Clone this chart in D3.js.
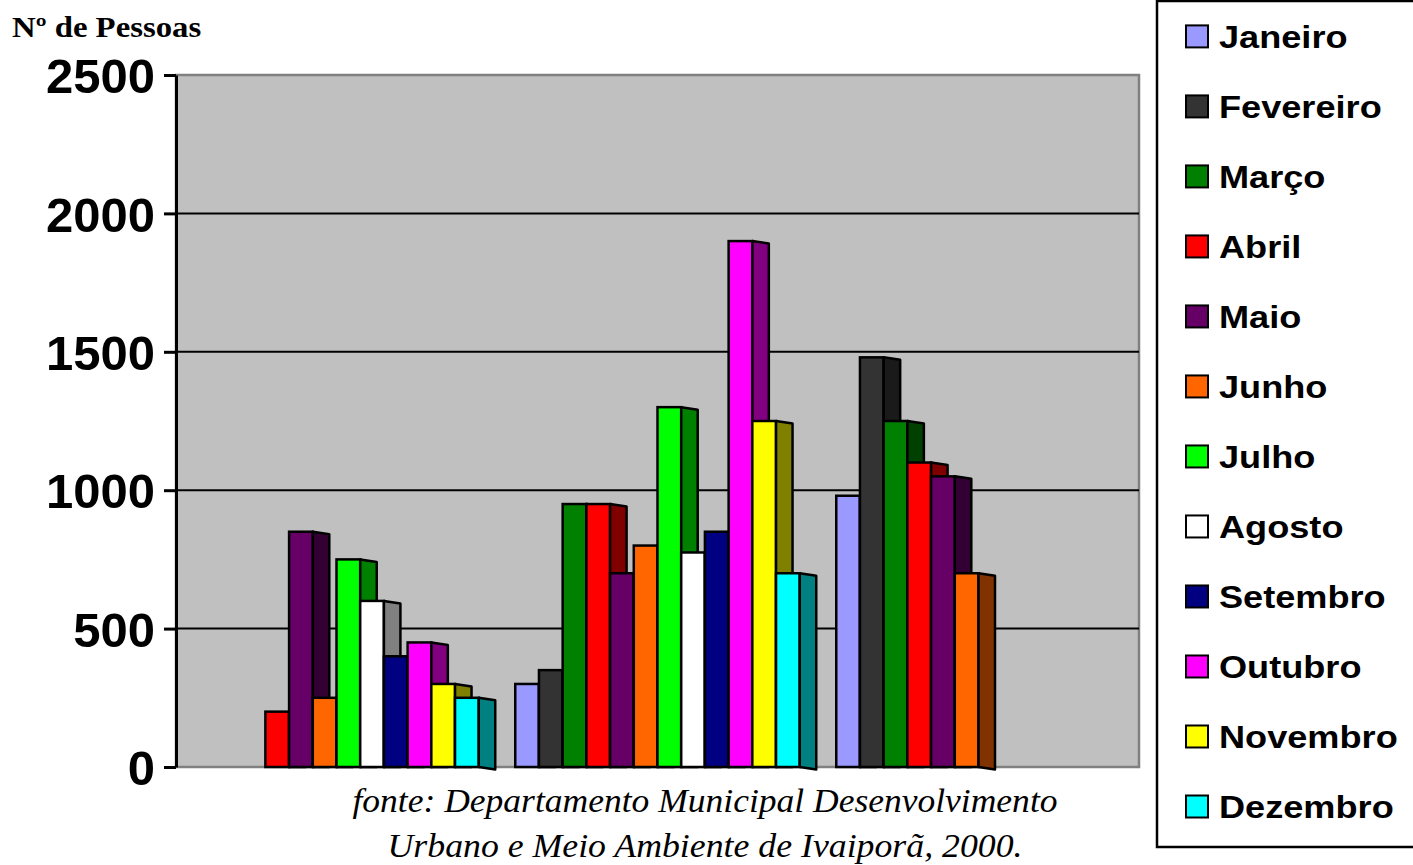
<!DOCTYPE html>
<html>
<head>
<meta charset="utf-8">
<script src="https://cdn.jsdelivr.net/npm/d3@7"></script>
<style>
  html, body { margin: 0; padding: 0; background: #ffffff; }
  svg { display: block; }
</style>
</head>
<body>
<svg id="chart" width="1413" height="865"></svg>
<script>
// Series (one per month) and their fill colours
const months = ["Janeiro", "Fevereiro", "Março", "Abril", "Maio", "Junho",
                "Julho", "Agosto", "Setembro", "Outubro", "Novembro", "Dezembro"];
const monthColors = ["#9999FF", "#333333", "#008000", "#FF0000", "#660066", "#FF6600",
                     "#00FF00", "#FFFFFF", "#000080", "#FF00FF", "#FFFF00", "#00FFFF"];

// Category groups (unlabelled on the axis)
const groups = ["Grupo 1", "Grupo 2", "Grupo 3"];

// Number of people per month, one array per group
const grupo1 = [0, 0, 0, 200, 850, 250, 750, 600, 400, 450, 300, 250];
const grupo2 = [300, 350, 950, 950, 700, 800, 1300, 775, 850, 1900, 1250, 700];
const grupo3 = [980, 1480, 1250, 1100, 1050, 700, 0, 0, 0, 0, 0, 0];
const groupValues = [grupo1, grupo2, grupo3];

// Y axis ticks
const yTicks = [0, 500, 1000, 1500, 2000, 2500];

const titleText = "Nº de Pessoas";
const sourceLines = ["fonte: Departamento Municipal Desenvolvimento",
                     "Urbano e Meio Ambiente de Ivaiporã, 2000."];

// ---- layout ----
const plot = { left: 176, right: 1139, top: 75, bottom: 767 };
const depthX = 16.5, depthY = 2.5;   // offset of the 3D side face

const svg = d3.select("#chart");

const y = d3.scaleLinear().domain([0, 2500]).range([plot.bottom, plot.top]);
const x0 = d3.scaleBand().domain(groups).range([plot.left, plot.right]);
const x1 = d3.scaleBand().domain(months).range([0, x0.bandwidth()]).paddingOuter(0.77);
const color = d3.scaleOrdinal().domain(months).range(monthColors);
const sideColor = m => {
  const c = d3.rgb(color(m));
  return d3.rgb(c.r * 0.5, c.g * 0.5, c.b * 0.5).formatHex();
};

// plot background
svg.append("rect")
  .attr("x", plot.left).attr("y", plot.top)
  .attr("width", plot.right - plot.left).attr("height", plot.bottom - plot.top)
  .attr("fill", "#C0C0C0").attr("stroke", "#808080").attr("stroke-width", 2.5);

// horizontal gridlines
svg.append("g").selectAll("line")
  .data(yTicks.filter(t => t > 0 && t < 2500))
  .join("line")
  .attr("x1", plot.left).attr("x2", plot.right)
  .attr("y1", d => y(d)).attr("y2", d => y(d))
  .attr("stroke", "#000").attr("stroke-width", 2);

// bars with a shaded side face
const bars = svg.append("g");
groups.forEach((g, gi) => {
  const vals = groupValues[gi];
  months.forEach((m, mi) => {
    const v = vals[mi];
    if (!v) return;
    const xa = x0(g) + x1(m);
    const xb = xa + x1.bandwidth();
    const yt = y(v), yb = y(0);
    // the bottom edge of the side face only shows when no bar stands next to it
    const hasNext = mi < months.length - 1 && vals[mi + 1] > 0;
    const bottomDy = hasNext ? 0 : depthY;
    bars.append("rect")
      .attr("x", xa).attr("y", yt)
      .attr("width", xb - xa).attr("height", yb - yt)
      .attr("fill", color(m)).attr("stroke", "#000").attr("stroke-width", 2.5);
    bars.append("path")
      .attr("d", `M${xb},${yt}L${xb + depthX},${yt + depthY}L${xb + depthX},${yb + bottomDy}L${xb},${yb}Z`)
      .attr("fill", sideColor(m)).attr("stroke", "#000").attr("stroke-width", 2.5)
      .attr("stroke-linejoin", "round");
  });
});

// y axis
const yAxis = svg.append("g")
  .attr("transform", `translate(${plot.left},0)`)
  .call(d3.axisLeft(y).tickValues(yTicks).tickFormat(d3.format("d"))
    .tickSize(12).tickSizeOuter(0).tickPadding(9));
yAxis.select(".domain").attr("stroke", "#000").attr("stroke-width", 3);
yAxis.selectAll(".tick line").attr("stroke", "#000").attr("stroke-width", 3);
yAxis.selectAll(".tick text")
  .attr("fill", "#000")
  .attr("dy", "0.36em")
  .style("font-family", "'Liberation Sans', Arial, sans-serif")
  .style("font-weight", "bold")
  .style("font-size", "49px");

// axis title
svg.append("text")
  .attr("transform", "translate(12,37) scale(1.13,1)")
  .style("font-family", "'Liberation Serif', 'Times New Roman', serif")
  .style("font-weight", "bold")
  .style("font-size", "29px")
  .attr("fill", "#000")
  .text(titleText);

// legend
const legendBox = { x: 1157, y: 1, w: 270, h: 846 };
svg.append("rect")
  .attr("x", legendBox.x).attr("y", legendBox.y)
  .attr("width", legendBox.w).attr("height", legendBox.h)
  .attr("fill", "#fff").attr("stroke", "#000").attr("stroke-width", 2.5);
const legendY = d3.scaleLinear().domain([0, 11]).range([36.4, 806.5]);
const legend = svg.append("g").selectAll("g")
  .data(months)
  .join("g")
  .attr("transform", (d, i) => `translate(0,${legendY(i)})`);
legend.append("rect")
  .attr("x", 1186).attr("y", -11).attr("width", 22).attr("height", 22)
  .attr("fill", d => color(d)).attr("stroke", "#000").attr("stroke-width", 2);
legend.append("text")
  .attr("transform", "translate(1219,11.5) scale(1.13,1)")
  .style("font-family", "'Liberation Sans', Arial, sans-serif")
  .style("font-weight", "bold")
  .style("font-size", "32px")
  .attr("fill", "#000")
  .text(d => d);

// source note
const sourceWidths = [705, 635];
const sourceBaselines = [812, 857];
svg.append("g").selectAll("text")
  .data(sourceLines)
  .join("text")
  .attr("x", 705)
  .attr("y", (d, i) => sourceBaselines[i])
  .attr("text-anchor", "middle")
  .attr("textLength", (d, i) => sourceWidths[i])
  .attr("lengthAdjust", "spacingAndGlyphs")
  .style("font-family", "'Liberation Serif', 'Times New Roman', serif")
  .style("font-style", "italic")
  .style("font-size", "34px")
  .attr("fill", "#000")
  .text(d => d);
</script>
</body>
</html>
